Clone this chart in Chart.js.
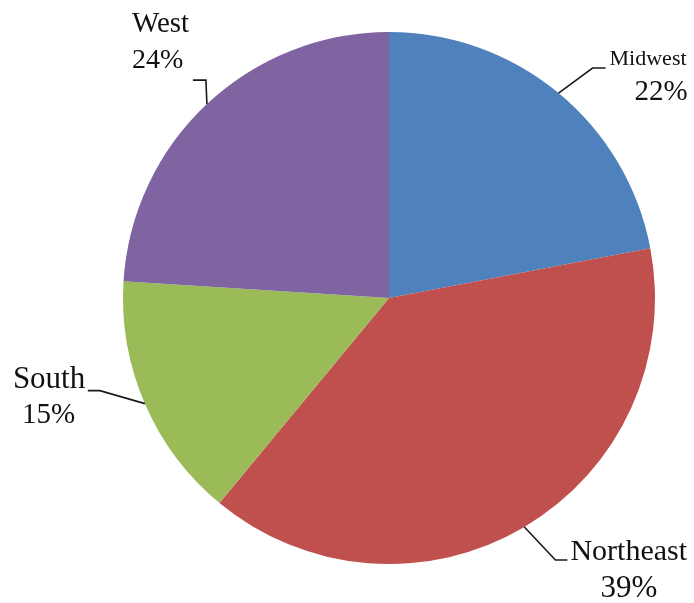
<!DOCTYPE html>
<html>
<head>
<meta charset="utf-8">
<script src="https://cdn.jsdelivr.net/npm/chart.js@4.4.0/dist/chart.umd.min.js"></script>
<style>
  html, body { margin: 0; padding: 0; background: #fff; }
</style>
</head>
<body>
<canvas id="myChart" width="694" height="603"></canvas>
<script>
'use strict';
// Data
var regions = ['Midwest', 'Northeast', 'South', 'West'];
var shares = [22, 39, 15, 24];
var sliceColors = ['#4f81bd', '#c0504d', '#9bbb59', '#8064a2'];

// leader line: elbow offset from the slice edge, then a short flat tail.
// name / pct: [dx, dy, fontSize] from the tail end (left edge, baseline)
var leaders = [
  {elbow: [34, -25], tail: 13, name: [4, -3, 22], pct: [29, 32, 29]},
  {elbow: [31, 33], tail: 12, name: [3, 0, 30], pct: [33, 37, 31]},
  {elbow: [-45, -13], tail: -12, name: [-75, -3, 31], pct: [-66, 32, 29]},
  {elbow: [-1, -24], tail: -13, name: [-61, -48, 29], pct: [-61, -12, 28]}
];

var leaderLabels = {
  id: 'leaderLabels',
  afterDraw: function (chart) {
    var ctx = chart.ctx;
    var meta = chart.getDatasetMeta(0);
    var total = shares.reduce(function (a, b) { return a + b; }, 0);
    ctx.save();
    meta.data.forEach(function (arc, i) {
      var mid = (arc.startAngle + arc.endAngle) / 2;
      var sx = arc.x + Math.cos(mid) * arc.outerRadius;
      var sy = arc.y + Math.sin(mid) * arc.outerRadius;
      var l = leaders[i];
      var ex = sx + l.elbow[0], ey = sy + l.elbow[1];
      var tx = ex + l.tail;
      ctx.beginPath();
      ctx.strokeStyle = '#1a1a1a';
      ctx.lineWidth = 1.6;
      ctx.moveTo(sx, sy);
      ctx.lineTo(ex, ey);
      ctx.lineTo(tx, ey);
      ctx.stroke();

      ctx.fillStyle = '#111';
      ctx.textAlign = 'left';
      ctx.textBaseline = 'alphabetic';
      ctx.font = l.name[2] + 'px "Liberation Serif", "Times New Roman", serif';
      ctx.fillText(regions[i], tx + l.name[0], ey + l.name[1]);
      ctx.font = l.pct[2] + 'px "Liberation Serif", "Times New Roman", serif';
      var pct = Math.round(shares[i] / total * 100) + '%';
      ctx.fillText(pct, tx + l.pct[0], ey + l.pct[1]);
    });
    ctx.restore();
  }
};

var ctx = document.getElementById('myChart').getContext('2d');
// eslint-disable-next-line no-undef
new Chart(ctx, {
  type: 'pie',
  data: {
    labels: regions,
    datasets: [{
      data: shares,
      backgroundColor: sliceColors,
      borderWidth: 0
    }]
  },
  options: {
    responsive: false,
    animation: false,
    layout: {
      padding: {left: 123, right: 39, top: 32, bottom: 39}
    },
    plugins: {
      legend: {display: false},
      tooltip: {enabled: false}
    }
  },
  plugins: [leaderLabels]
});
</script>
</body>
</html>
